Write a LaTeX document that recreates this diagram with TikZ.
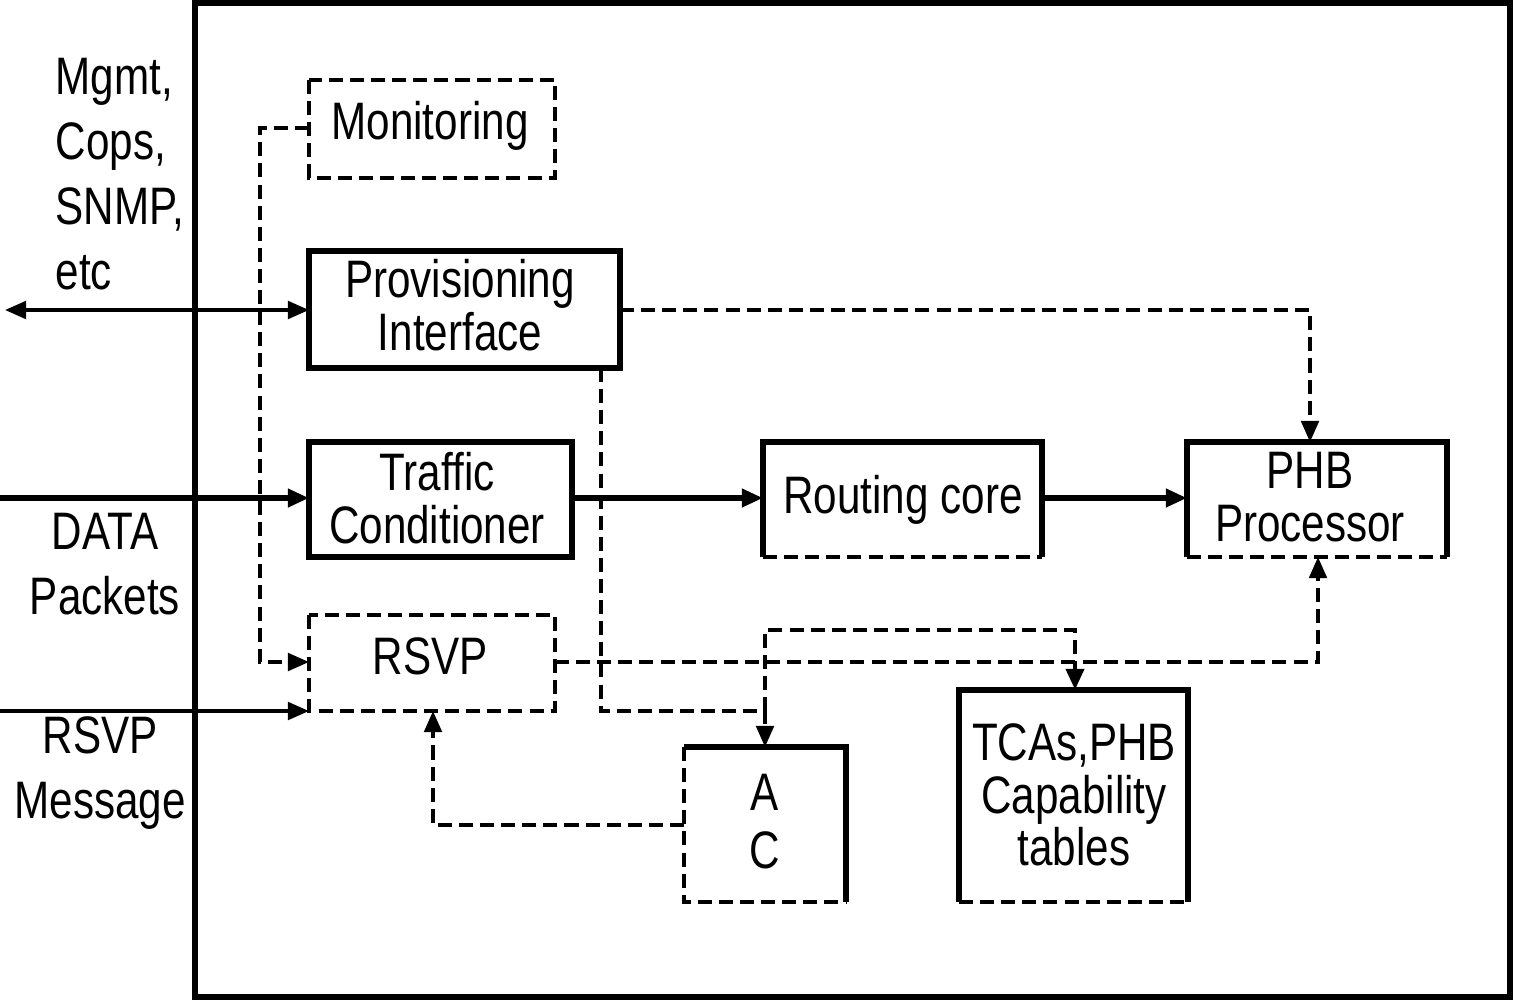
\documentclass[tikz,border=0pt]{standalone}
\usepackage{fontspec}
\setmainfont{Liberation Sans}[FakeStretch=0.8]
\usetikzlibrary{arrows.meta}
\tikzset{
  lbl/.style={font=\fontsize{15}{15}\selectfont,align=center,inner sep=0pt},
  side/.style={font=\fontsize{15}{18.5}\selectfont,align=center,inner sep=0pt},
  thk/.style={line width=1.6pt},
  dsh/.style={line width=1pt,dash pattern=on 4pt off 2pt},
  arr/.style={-{Triangle[length=6pt,width=5pt]}}
}
\begin{document}
\begin{tikzpicture}[x=0.01cm,y=-0.01cm]
\useasboundingbox (0,0) rectangle (1513,1000);
\draw[thk] (195,3) rectangle (1510,997);
% boxes
\draw[dsh,line width=1.4pt] (309,80) rectangle (555,178);
\node[lbl] (mon) at (430,126) {Monitoring};
\draw[thk] (309,251) rectangle (620,368);
\node[lbl] (prov) at (460,305) {Provisioning\\Interface};
\draw[thk] (309,442) rectangle (572,557);
\node[lbl] (tc) at (437,498) {Traffic\\Conditioner};
\draw[thk] (763,557) -- (763,442) -- (1042,442) -- (1042,557);
\draw[dsh] (763,557) -- (1042,557);
\node[lbl] (rc) at (903,500) {Routing core};
\draw[thk] (1187,557) -- (1187,442) -- (1447,442) -- (1447,557);
\draw[dsh] (1187,557) -- (1447,557);
\node[lbl] (phb) at (1310,497) {PHB\\Processor};
\draw[dsh] (309,615) rectangle (555,711);
\node[lbl] (rsvp) at (430,656) {RSVP};
\draw[thk] (684,747) -- (846,747) -- (846,902);
\draw[dsh] (684,747) -- (684,902) -- (846,902);
\node[lbl,font=\fontsize{15}{16.5}\selectfont] (ac) at (765,822) {A\\C};
\draw[thk] (959,902) -- (959,690) -- (1188,690) -- (1188,902);
\draw[dsh,line width=1.4pt] (959,902) -- (1188,902);
\node[lbl] (tca) at (1074,795) {TCAs,PHB\\Capability\\tables};
% side labels
\node[side,align=left,anchor=west] (mg) at (55,174) {Mgmt,\\Cops,\\SNMP,\\etc};
\node[side] (dp) at (105,564) {DATA\\Packets};
\node[side] (rm) at (100,773) {RSVP\\Message};
\coordinate (w1) at (5,310);
\coordinate (w2) at (0,498);
\coordinate (w3) at (0,711);
% connectors
\draw[line width=1pt,{Triangle[length=6pt,width=5pt]}-{Triangle[length=6pt,width=5pt]}] (w1) -- (309,310);
\draw[thk,arr] (w2) -- (309,498);
\draw[thk,arr] (572,498) -- (763,498);
\draw[thk,arr] (1042,498) -- (1187,498);
\draw[line width=1pt,arr] (w3) -- (309,711);
\draw[dsh,arr] (309,128) -- (260,128) -- (260,662) -- (309,662);
\draw[dsh,arr] (620,310) -- (1310,310) -- (1310,442);
\draw[dsh,arr] (601,368) -- (601,711) -- (765,711) -- (765,747);
\draw[dsh,arr] (555,662) -- (1318,662) -- (1318,557);
\draw[dsh,line width=1.4pt,arr] (765,711) -- (765,630) -- (1075,630) -- (1075,690);
\draw[dsh,arr] (684,825) -- (433,825) -- (433,711);
\end{tikzpicture}
\end{document}
